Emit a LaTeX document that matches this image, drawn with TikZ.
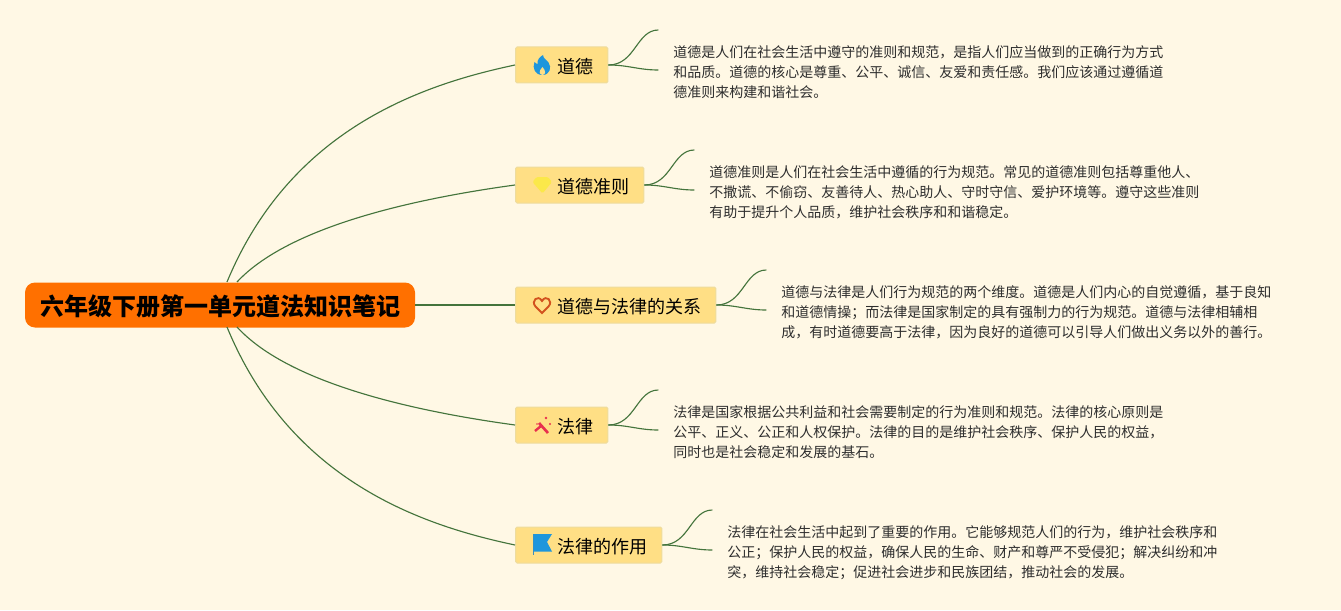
\documentclass[tikz,border=0pt]{standalone}
\usepackage{fontspec}
\setmainfont{Noto Sans CJK SC}
\definecolor{paper}{HTML}{FFF8E5}
\definecolor{rootfill}{HTML}{FF7000}
\definecolor{topicfill}{HTML}{FFDF85}
\definecolor{topicline}{HTML}{EEDC9E}
\definecolor{branch}{HTML}{44743C}
\definecolor{leaftext}{HTML}{2E2E2E}
\definecolor{iconblue}{HTML}{1E96DC}
\definecolor{icongem}{HTML}{FBE84A}
\definecolor{iconheart}{HTML}{D2521E}
\definecolor{iconwand}{HTML}{E8304E}
\tikzset{
  rootnode/.style={fill=rootfill, rounded corners=7.5pt, text=black, font=\fontsize{18pt}{22pt}\selectfont\bfseries,
    minimum width=292.5pt, minimum height=33.75pt, inner sep=0pt},
  topic/.style={fill=topicfill, draw=topicline, line width=0.75pt, rounded corners=1.2pt, anchor=west,
    font=\fontsize{13.5pt}{16pt}\selectfont, text=black, minimum height=27pt,
    inner xsep=0pt, inner ysep=0pt, align=left},
  leaf/.style={anchor=north west, font=\fontsize{10.5pt}{15pt}\selectfont, text=leaftext, align=left, inner sep=0pt},
  bough/.style={draw=branch, line width=0.85pt},
}
\begin{document}
\begin{tikzpicture}[x=0.75pt, y=-0.75pt]
  \def\topicpad#1{\hspace*{31.5pt}\raisebox{-1.4pt}[\height][\depth]{#1}\hspace*{10.8pt}}
  \def\flame{
    \fill[iconblue] (1,-10) .. controls (1.5,-6) and (4,-6) .. (6.5,-2.5)
      .. controls (10,2) and (8,10) .. (0.5,10) .. controls (-7,10) and (-10,3) .. (-7.5,-3)
      .. controls (-6.5,-2) and (-5.5,-1) .. (-4.5,-1) .. controls (-5,-5) and (-2.5,-8) .. (1,-10) -- cycle;
    \fill[topicfill] (0.5,10) .. controls (-3,9.5) and (-3.5,6) .. (0.5,2)
      .. controls (4,6) and (4,9.5) .. (0.5,10) -- cycle;
  }
  \def\gem{
    \fill[icongem, rounded corners=1pt] (-5.5,-8) -- (6,-8) -- (10,-3) -- (0.5,8.5) -- (-9.5,-3) -- cycle;
  }
  \def\heart{
    \draw[iconheart, line width=1.4pt] (0,8) -- (-6.5,1.5) .. controls (-11.5,-4) and (-4,-11) .. (0,-4)
      .. controls (4,-11) and (11.5,-4) .. (6.5,1.5) -- cycle;
  }
  \def\wand{
    \draw[iconwand, line width=2pt] (-3,-2) -- (6,8);
    \draw[iconwand, line width=1.8pt] (-7,6) -- (-1,1);
    \fill[iconwand] (4,-7) circle (1.3) (8,-1) circle (1.1) (-5,-1) circle (0.8);
  }
  \def\flag{
    \draw[iconblue!70!gray, line width=0.75pt] (-9,-11) -- (-9,10);
    \fill[iconblue] (-8.5,-11) -- (10,-11) -- (5,-3) -- (10,6.5) -- (-8.5,6.5) -- cycle;
  }
  \fill[paper] (0,0) rectangle (1341,610);
  \useasboundingbox (0,0) rectangle (1341,610);
  % centre
  \node[rootnode] (root) at (220,305) {\raisebox{-0.8pt}[\height][\depth]{六年级下册第一单元道法知识笔记}};
  \coordinate (rootupa) at (227,282);
  \coordinate (rootupb) at (237,282);
  \coordinate (rootdna) at (227,327);
  \coordinate (rootdnb) at (237,327);
  % topics
  \node[topic] (morals) at (515,65) {\topicpad{道德}};
  \node[topic] (rules) at (515,185) {\topicpad{道德准则}};
  \node[topic] (relation) at (515,305) {\topicpad{道德与法律的关系}};
  \node[topic] (law) at (515,425) {\topicpad{法律}};
  \node[topic] (lawuse) at (515,545) {\topicpad{法律的作用}};
  \begin{scope}[shift={(542,65)}]
    \flame
  \end{scope}
  \begin{scope}[shift={(542,185)}]
    \gem
  \end{scope}
  \begin{scope}[shift={(542,305)}]
    \heart
  \end{scope}
  \begin{scope}[shift={(542,425)}]
    \wand
  \end{scope}
  \begin{scope}[shift={(542,545)}]
    \flag
  \end{scope}
  % texts
  \node[leaf] (moralstext) at (673,45) {道德是人们在社会生活中遵守的准则和规范，是指人们应当做到的正确行为方式\\和品质。道德的核心是尊重、公平、诚信、友爱和责任感。我们应该通过遵循道\\德准则来构建和谐社会。};
  \node[leaf] (rulestext) at (709,165) {道德准则是人们在社会生活中遵循的行为规范。常见的道德准则包括尊重他人、\\不撒谎、不偷窃、友善待人、热心助人、守时守信、爱护环境等。遵守这些准则\\有助于提升个人品质，维护社会秩序和和谐稳定。};
  \node[leaf] (relationtext) at (781,285) {道德与法律是人们行为规范的两个维度。道德是人们内心的自觉遵循，基于良知\\和道德情操；而法律是国家制定的具有强制力的行为规范。道德与法律相辅相\\成，有时道德要高于法律，因为良好的道德可以引导人们做出义务以外的善行。};
  \node[leaf] (lawtext) at (673,405) {法律是国家根据公共利益和社会需要制定的行为准则和规范。法律的核心原则是\\公平、正义、公正和人权保护。法律的目的是维护社会秩序、保护人民的权益，\\同时也是社会稳定和发展的基石。};
  \node[leaf] (lawusetext) at (727,525) {法律在社会生活中起到了重要的作用。它能够规范人们的行为，维护社会秩序和\\公正；保护人民的权益，确保人民的生命、财产和尊严不受侵犯；解决纠纷和冲\\突，维持社会稳定；促进社会进步和民族团结，推动社会的发展。};
  % big branches
  \draw[bough] (rootupa) .. controls (290,130) and (420,85) .. (morals.west);
  \draw[bough] (rootupb) .. controls (290,225) and (420,198) .. (rules.west);
  \draw[bough] (root.east) -- (relation.west);
  \draw[bough] (rootdnb) .. controls (290,385) and (420,412) .. (law.west);
  \draw[bough] (rootdna) .. controls (290,480) and (420,525) .. (lawuse.west);
  % small forks
  \foreach \topicname in {morals, rules, relation, law, lawuse}{
    \draw[bough] (\topicname.east) .. controls +(27,0) and +(-22,0) .. ([xshift=37.5pt,yshift=26.25pt]\topicname.east);
    \draw[bough] (\topicname.east) .. controls +(20,0) and +(-20,0) .. ([xshift=37.5pt,yshift=-3.75pt]\topicname.east);
  }
\end{tikzpicture}
\end{document}
